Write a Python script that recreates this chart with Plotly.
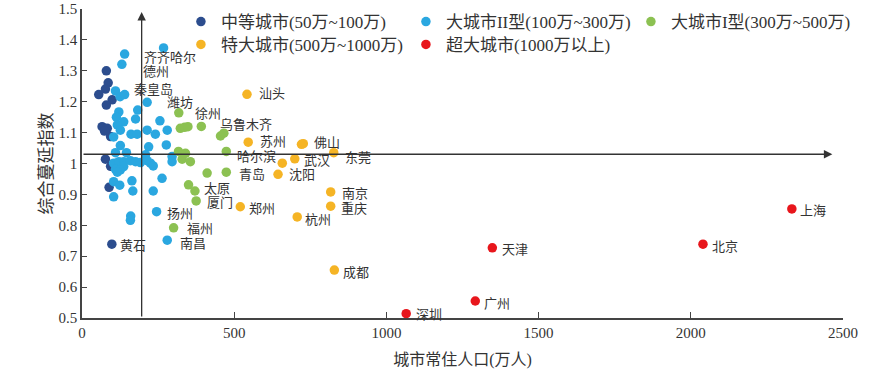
import plotly.graph_objects as go

# ---------------- data ----------------
# 中等城市(50万~100万)
mid_pop = [80, 86, 77, 55, 99, 80, 66, 83, 94, 74, 77, 94, 89, 98]
mid_idx = [1.300, 1.261, 1.241, 1.223, 1.206, 1.189, 1.119, 1.114, 1.087, 1.105,
           1.014, 0.991, 0.923, 0.739]
mid_name = ["", "", "", "", "", "", "", "", "", "", "", "", "", "黄石"]

# 大城市II型(100万~300万)
l2_pop = [268, 140, 131, 110, 125, 140, 214, 121, 113, 183, 176, 137, 256, 116,
          126, 214, 241, 280, 161, 181, 104, 126, 219, 277, 110, 146, 209, 296,
          296, 104, 121, 137, 159, 176, 192, 214, 225, 137, 110, 126, 116, 234,
          263, 164, 104, 124, 167, 234, 104, 245, 160, 159, 280]
l2_idx = [1.374, 1.354, 1.321, 1.235, 1.216, 1.223, 1.198, 1.167, 1.150, 1.173,
          1.144, 1.135, 1.138, 1.125, 1.108, 1.108, 1.095, 1.108, 1.095, 1.095,
          1.086, 1.058, 1.054, 1.060, 1.035, 1.035, 1.028, 1.023, 1.006, 1.001,
          1.006, 1.006, 1.009, 1.006, 1.003, 1.009, 1.001, 0.990, 0.981, 0.979,
          0.972, 0.992, 0.952, 0.944, 0.941, 0.930, 0.911, 0.911, 0.892, 0.844,
          0.830, 0.816, 0.752]
l2_name = ["齐齐哈尔", "", "德州", "", "", "秦皇岛"] + [""] * 43 + ["扬州", "", "", "南昌"]

# 大城市I型(300万~500万)
l1_pop = [318, 392, 323, 337, 348, 455, 466, 474, 317, 340, 329, 356, 411, 474,
          350, 371, 375, 301]
l1_idx = [1.164, 1.120, 1.114, 1.117, 1.119, 1.089, 1.098, 1.039, 1.039, 1.033,
          1.014, 1.006, 0.969, 0.972, 0.931, 0.911, 0.879, 0.792]
l1_name = ["潍坊", "徐州", "", "", "", "", "乌鲁木齐", "哈尔滨", "", "", "", "", "",
           "青岛", "", "太原", "厦门", "福州"]

# 特大城市(500万~1000万)
sp_pop = [542, 546, 727, 721, 827, 699, 658, 644, 817, 817, 707, 520, 829]
sp_idx = [1.224, 1.069, 1.064, 1.062, 1.035, 1.015, 1.001, 0.965, 0.908, 0.862,
          0.827, 0.860, 0.655]
sp_name = ["汕头", "苏州", "佛山", "", "东莞", "武汉", "", "沈阳", "南京", "重庆",
           "杭州", "郑州", "成都"]

# 超大城市(1000万以上)
mg_pop = [2332, 2040, 1348, 1292, 1065]
mg_idx = [0.853, 0.739, 0.727, 0.555, 0.514]
mg_name = ["上海", "北京", "天津", "广州", "深圳"]

# reference (mean) lines
mean_pop = 196
mean_idx = 1.030

x_ticks = [0, 500, 1000, 1500, 2000, 2500]
y_ticks = [0.5, 0.6, 0.7, 0.8, 0.9, 1.0, 1.1, 1.2, 1.3, 1.4, 1.5]
y_ticktext = ["0.5", "0.6", "0.7", "0.8", "0.9", "1", "1.1", "1.2", "1.3", "1.4", "1.5"]

series = [
    ("中等城市(50万~100万)", mid_pop, mid_idx, mid_name, "#2C4D8E", "legend"),
    ("大城市II型(100万~300万)", l2_pop, l2_idx, l2_name, "#2AA7E0", "legend"),
    ("大城市I型(300万~500万)", l1_pop, l1_idx, l1_name, "#8CC152", "legend"),
    ("特大城市(500万~1000万)", sp_pop, sp_idx, sp_name, "#F5B425", "legend2"),
    ("超大城市(1000万以上)", mg_pop, mg_idx, mg_name, "#E8161C", "legend2"),
]

# label offsets in pixels: (right, down) from the dot to the text's left-middle
label_offset = {
    "齐齐哈尔": (-22, 10), "德州": (19, 7), "秦皇岛": (7, -5), "潍坊": (-14, -10),
    "徐州": (-8, -13), "乌鲁木齐": (-6, -9), "苏州": (10, -1), "佛山": (9, -1),
    "东莞": (9, 5), "哈尔滨": (9, 5), "武汉": (7, 2), "沈阳": (9, 0), "青岛": (11, 2),
    "太原": (7, -3), "厦门": (9, 1.5), "郑州": (7, 2), "扬州": (8, 2), "福州": (11, 1),
    "南昌": (11, 3), "黄石": (6, 1), "汕头": (10, -1), "南京": (9, 2), "重庆": (8, 2),
    "杭州": (6, 3), "成都": (7, 2), "天津": (8, 2), "广州": (7, 2), "深圳": (8, 1),
    "北京": (7, 2), "上海": (6, 2),
}

FONT = "Liberation Serif, Noto Sans CJK SC, serif"
TXT = "#333333"

fig = go.Figure()
annotations = []
for name, xs, ys, labels, color, leg in series:
    fig.add_trace(go.Scatter(
        x=xs, y=ys, mode="markers", name=name, legend=leg,
        marker=dict(color=color, size=9.5, line=dict(width=0)),
        cliponaxis=False,
    ))
    for x, y, lab in zip(xs, ys, labels):
        if lab:
            dx, dy = label_offset.get(lab, (8, 0))
            annotations.append(dict(
                x=x, y=y, xref="x", yref="y", text=lab, showarrow=False,
                xanchor="left", yanchor="middle", xshift=dx, yshift=-dy,
                font=dict(family=FONT, size=13, color=TXT),
            ))

# arrowed reference lines
annotations.append(dict(
    x=mean_pop, y=1.49, ax=mean_pop, ay=0.5, xref="x", yref="y", axref="x", ayref="y",
    showarrow=True, arrowhead=2, arrowsize=1.3, arrowwidth=1.3, arrowcolor="#333333", text="",
))
annotations.append(dict(
    x=2465, y=mean_idx, ax=0, ay=mean_idx, xref="x", yref="y", axref="x", ayref="y",
    showarrow=True, arrowhead=2, arrowsize=1.3, arrowwidth=1.3, arrowcolor="#333333", text="",
))

legend_style = dict(
    orientation="h", x=0.130, xanchor="left", yanchor="top",
    font=dict(family=FONT, size=17, color=TXT), entrywidth=180,
    bgcolor="rgba(0,0,0,0)", itemclick=False,
)

fig.update_layout(
    width=882, height=377,
    margin=dict(l=81.5, r=39, t=9, b=59, autoexpand=False),
    paper_bgcolor="white", plot_bgcolor="white",
    font=dict(family=FONT, color=TXT),
    showlegend=True,
    legend=dict(legend_style, y=1.016),
    legend2=dict(legend_style, y=0.942),
    annotations=annotations,
    xaxis=dict(
        range=[0, 2500], tickvals=x_ticks, showgrid=False, zeroline=False,
        showline=True, linecolor="#444444", linewidth=1.5, automargin=False,
        ticks="inside", ticklen=6, tickcolor="#444444", tickwidth=1,
        ticklabeloverflow="allow",
        tickfont=dict(family=FONT, size=15, color=TXT),
        title=dict(text="城市常住人口(万人)", font=dict(family=FONT, size=16, color=TXT), standoff=14),
    ),
    yaxis=dict(
        range=[0.5, 1.5], tickvals=y_ticks, ticktext=y_ticktext, showgrid=False, zeroline=False,
        showline=True, linecolor="#444444", linewidth=1.5, automargin=False,
        ticks="inside", ticklen=5, tickcolor="#444444", tickwidth=1,
        ticklabeloverflow="allow",
        tickfont=dict(family=FONT, size=15, color=TXT),
        title=dict(text="综合蔓延指数", font=dict(family=FONT, size=17, color=TXT), standoff=2),
    ),
)

# remove the page's default 8px body margin so the figure sits at the window origin
fig.write_html("out.html", config={"displayModeBar": False},
               post_script="document.body.style.margin='0';")
